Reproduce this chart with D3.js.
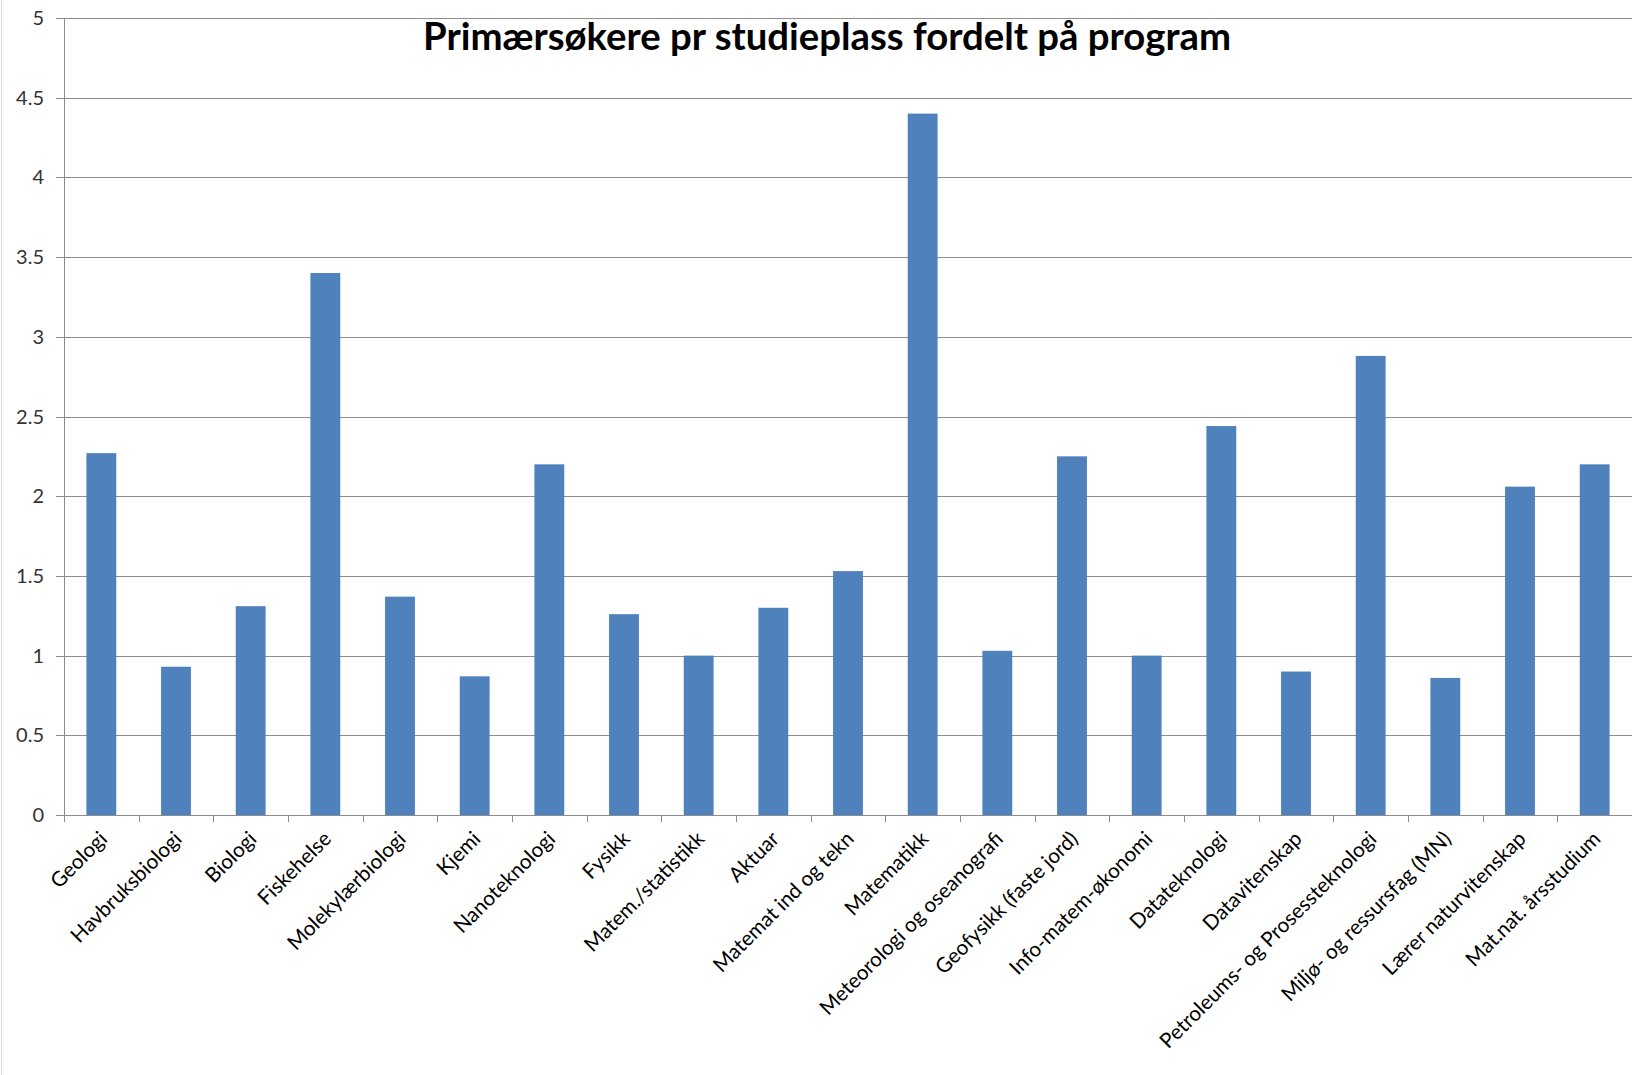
<!DOCTYPE html>
<html>
<head>
<meta charset="utf-8">
<script src="https://cdn.jsdelivr.net/npm/d3@7"></script>
<style>
    html, body { margin: 0; padding: 0; background: #fff; }
    svg { display: block; }
    .axis text { font-family: Lato, "Open Sans", sans-serif; fill: #000; }
    .axis--y text { font-size: 20px; fill: #333; }
    .axis--x text { font-size: 20.7px; }
    .grid line { stroke: #8c8c8c; stroke-width: 1; }
</style>
</head>
<body>
<svg id="chart" width="1632" height="1075"></svg>
<script>
var title = "Primærsøkere pr studieplass fordelt på program";

var programs = [
    "Geologi", "Havbruksbiologi", "Biologi", "Fiskehelse", "Molekylærbiologi",
    "Kjemi", "Nanoteknologi", "Fysikk", "Matem./statistikk", "Aktuar",
    "Matemat ind og tekn", "Matematikk", "Meteorologi og oseanografi",
    "Geofysikk (faste jord)", "Info-matem-økonomi", "Datateknologi",
    "Datavitenskap", "Petroleums- og Prosessteknologi", "Miljø- og ressursfag (MN)",
    "Lærer naturvitenskap", "Mat.nat. årsstudium"
];

var applicantsPerSeat = [
    2.27, 0.93, 1.31, 3.4, 1.37,
    0.87, 2.2, 1.26, 1.0, 1.3,
    1.53, 4.4, 1.03,
    2.25, 1.0, 2.44,
    0.9, 2.88, 0.86,
    2.06, 2.2
];

var yTicks = [0, 0.5, 1, 1.5, 2, 2.5, 3, 3.5, 4, 4.5, 5];

(function () {
    var svg = d3.select("#chart");
    var margin = {top: 18, right: 0, bottom: 260, left: 64};
    var width = +svg.attr("width") - margin.left - margin.right;
    var height = +svg.attr("height") - margin.top - margin.bottom;

    // chart area border on the left
    svg.append("line")
        .attr("x1", 1.5).attr("x2", 1.5)
        .attr("y1", 0).attr("y2", 1075)
        .attr("stroke", "#d9d9d9");

    var g = svg.append("g")
        .attr("transform", "translate(" + margin.left + "," + margin.top + ")");

    var x = d3.scaleBand()
        .domain(programs)
        .range([0, width])
        .paddingInner(0.6)
        .paddingOuter(0.3);

    var xb = d3.scaleBand().domain(programs).range([0, width]);

    var y = d3.scaleLinear()
        .domain([0, 5])
        .range([height, 0]);

    // gridlines
    g.append("g")
        .attr("class", "grid")
        .selectAll("line")
        .data(yTicks)
        .enter().append("line")
        .attr("x1", -8)
        .attr("x2", width)
        .attr("y1", function (d) { return Math.round(y(d)) + 0.5; })
        .attr("y2", function (d) { return Math.round(y(d)) + 0.5; });

    // y axis labels
    g.append("g")
        .attr("class", "axis axis--y")
        .selectAll("text")
        .data(yTicks)
        .enter().append("text")
        .attr("x", -20)
        .attr("y", function (d) { return y(d); })
        .attr("dy", "0.35em")
        .attr("text-anchor", "end")
        .text(function (d) { return d; });

    // y axis line
    g.append("line")
        .attr("x1", 0.5).attr("x2", 0.5)
        .attr("y1", 0).attr("y2", height)
        .attr("stroke", "#8c8c8c");

    // bars
    g.append("g")
        .selectAll("rect")
        .data(applicantsPerSeat)
        .enter().append("rect")
        .attr("x", function (d, i) { return x(programs[i]); })
        .attr("width", x.bandwidth())
        .attr("y", function (d) { return y(d); })
        .attr("height", function (d) { return height - y(d); })
        .attr("fill", "#4f81bd");

    // x axis ticks on category boundaries
    var bounds = programs.map(function (p) { return xb(p); }).concat([width]);
    g.append("g")
        .selectAll("line")
        .data(bounds)
        .enter().append("line")
        .attr("x1", function (d) { return Math.round(d) + 0.5; })
        .attr("x2", function (d) { return Math.round(d) + 0.5; })
        .attr("y1", height)
        .attr("y2", height + 7)
        .attr("stroke", "#8c8c8c");

    // x labels
    g.append("g")
        .attr("class", "axis axis--x")
        .selectAll("text")
        .data(programs)
        .enter().append("text")
        .attr("transform", function (d) {
            return "translate(" + (xb(d) + xb.bandwidth() / 2 + 2) + "," + (height + 20) + ") rotate(-45)";
        })
        .attr("dy", "0.35em")
        .attr("text-anchor", "end")
        .text(function (d) { return d; });

    // title
    svg.append("text")
        .attr("x", 827)
        .attr("y", 50)
        .attr("text-anchor", "middle")
        .attr("textLength", 808)
        .attr("lengthAdjust", "spacingAndGlyphs")
        .style("font-family", "Lato, 'Open Sans', sans-serif")
        .style("font-weight", "bold")
        .style("font-size", "38px")
        .text(title);
})();
</script>
</body>
</html>
